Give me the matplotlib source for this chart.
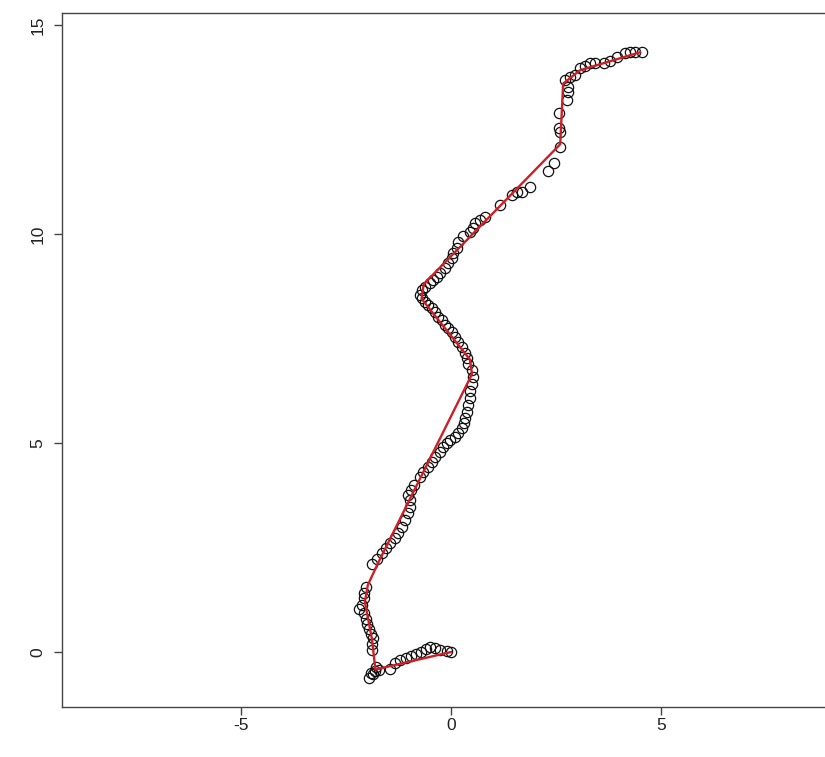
import matplotlib
matplotlib.use("Agg")
import matplotlib.pyplot as plt

# observed points (open circles)
obs_x = [0.00, -0.10, -0.26, -0.38, -0.50, -0.60, -0.71, -0.83, -0.95, -1.08, -1.21, -1.33,
         -1.45, -1.72, -1.82, -1.78, -1.86, -1.95, -1.90, -1.87, -1.88,
         -1.86, -1.90, -1.95, -1.99, -2.02, -2.07, -2.19, -2.12, -2.07, -2.07, -2.02,
         -1.89, -1.77, -1.65, -1.55, -1.45, -1.33, -1.26, -1.17, -1.10, -1.02, -0.98, -0.98,
         -1.02, -0.95, -0.88, -0.74, -0.66, -0.55, -0.46, -0.38, -0.26, -0.18, -0.10, -0.02,
         0.10, 0.17, 0.26, 0.30, 0.33, 0.38, 0.40, 0.45, 0.45, 0.50, 0.52, 0.50, 0.40, 0.38,
         0.33, 0.26, 0.17, 0.10, 0.02, -0.07, -0.14, -0.21, -0.31, -0.38, -0.46, -0.55, -0.62,
         -0.69, -0.74, -0.69, -0.62, -0.50, -0.43, -0.33, -0.26, -0.14, -0.07, 0.02, 0.05,
         0.14, 0.17, 0.29, 0.45, 0.52, 0.57, 0.69, 0.80, 1.17, 1.45, 1.57, 1.69, 1.88, 2.31,
         2.45, 2.60, 2.60, 2.58, 2.58, 2.76, 2.79, 2.79, 2.71, 2.83, 2.95, 3.07, 3.20, 3.31,
         3.43, 3.65, 3.79, 3.95, 4.14, 4.26, 4.38, 4.55]
obs_y = [0.00, 0.02, 0.05, 0.10, 0.12, 0.06, 0.00, -0.05, -0.10, -0.15, -0.20, -0.27,
         -0.40, -0.42, -0.45, -0.35, -0.53, -0.62, -0.50, 0.05, 0.20,
         0.33, 0.43, 0.55, 0.67, 0.79, 0.93, 1.02, 1.12, 1.29, 1.42, 1.55,
         2.10, 2.22, 2.36, 2.48, 2.60, 2.72, 2.85, 3.00, 3.15, 3.32, 3.47, 3.63,
         3.75, 3.88, 4.00, 4.19, 4.30, 4.43, 4.55, 4.67, 4.79, 4.90, 5.00, 5.07,
         5.15, 5.23, 5.35, 5.47, 5.60, 5.75, 5.92, 6.08, 6.25, 6.42, 6.58, 6.75, 6.88, 7.03,
         7.15, 7.30, 7.42, 7.54, 7.66, 7.75, 7.82, 7.94, 8.01, 8.13, 8.23, 8.30, 8.37,
         8.47, 8.54, 8.66, 8.73, 8.83, 8.90, 8.97, 9.07, 9.19, 9.31, 9.43, 9.55,
         9.67, 9.80, 9.95, 10.05, 10.14, 10.26, 10.33, 10.41, 10.69, 10.93, 11.00, 11.00, 11.12, 11.50,
         11.70, 12.08, 12.44, 12.53, 12.89, 13.22, 13.40, 13.52, 13.68, 13.76, 13.80, 13.97, 14.02, 14.09,
         14.09, 14.10, 14.13, 14.23, 14.33, 14.35, 14.35, 14.35]

# fitted path (red line)
fit_x = [0.00, -1.80, -1.88, -2.05, -1.98, -1.75, 0.50, 0.45, -0.70, -0.65, 2.60, 2.67, 3.07, 4.50]
fit_y = [0.00, -0.42, 0.30, 1.20, 1.60, 2.10, 6.65, 7.00, 8.45, 8.80, 12.15, 13.60, 13.92, 14.35]

xticks = [-5, 0, 5]
yticks = [0, 5, 10, 15]

plt.rcParams['font.family'] = ['Liberation Sans', 'DejaVu Sans']
plt.rcParams['axes.unicode_minus'] = False

fig = plt.figure(figsize=(8.25, 7.57), dpi=100)
W, H = 825, 757
left, right, top, bottom = 62, 840, 13, 707
ax = fig.add_axes([left / W, 1 - bottom / H, (right - left) / W, (bottom - top) / H])

ax.plot(obs_x, obs_y, linestyle='none', marker='o', markersize=7.4,
        markerfacecolor='none', markeredgecolor='#111111', markeredgewidth=0.9, zorder=2)
ax.plot(fit_x, fit_y, color='#cc1f26', linewidth=1.7, zorder=3)

ax.set_xlim(-9.26, 9.26)
ax.set_ylim(-1.316, 15.29)
ax.set_xticks(xticks)
ax.set_yticks(yticks)
ax.set_xticklabels([str(v) for v in xticks])
ax.set_yticklabels([str(v) for v in yticks], rotation=90, va='center')

for s in ax.spines.values():
    s.set_color('#444444')
    s.set_linewidth(1.0)
ax.tick_params(direction='out', length=6, width=1.0, color='#444444',
               labelsize=12.5, labelcolor='#222222')
ax.tick_params(axis='x', pad=2)
ax.tick_params(axis='y', pad=6)

fig.savefig('out.png', dpi=100)
